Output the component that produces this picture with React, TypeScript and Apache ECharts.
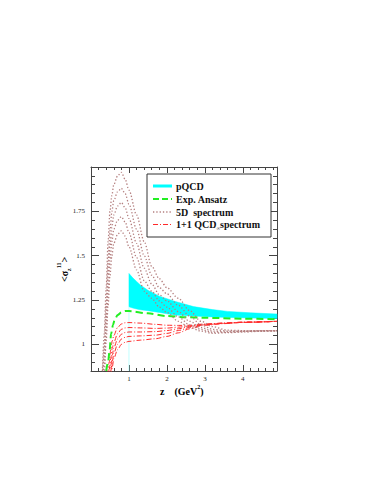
import React, { useEffect, useRef } from 'react';
import * as echarts from 'echarts';

// ---- data ----
const X_MAJOR = [1, 2, 3, 4];
const Y_MAJOR = [1, 1.25, 1.5, 1.75];

// pQCD band
const Z_BAND = [1.0, 1.1, 1.2, 1.3, 1.5, 1.8, 2.2, 2.7, 3.2, 3.6, 4.2, 4.9];
const BAND_UPPER = [1.4, 1.375, 1.355, 1.335, 1.305, 1.272, 1.243, 1.213, 1.196, 1.186, 1.178, 1.171];
const BAND_LOWER = [1.212, 1.205, 1.2, 1.195, 1.19, 1.18, 1.165, 1.16, 1.155, 1.152, 1.149, 1.146];

// Exp. Ansatz
const Z_GREEN = [0.4, 0.45, 0.49, 0.53, 0.58, 0.62, 0.7, 0.8, 0.9, 1.0, 1.5, 2.0, 2.5, 3.0, 4.0, 4.9];
const EXP_ANSATZ = [0.85, 0.9, 0.966, 1.06, 1.11, 1.136, 1.165, 1.18, 1.188, 1.188, 1.175, 1.16, 1.153, 1.15, 1.145, 1.142];

// 5D spectrum
const Z_5D = [0.3, 0.35, 0.4, 0.45, 0.5, 0.55, 0.6, 0.7, 0.8, 0.9, 1.0, 1.2, 1.4, 1.6, 1.8, 2.0, 2.3, 2.6, 2.9, 3.2, 3.6, 4.0, 4.5, 4.9];
const SPEC5D_1 = [0.85, 1.06, 1.32, 1.58, 1.75, 1.84, 1.9, 1.95, 1.97, 1.93, 1.87, 1.73, 1.58, 1.44, 1.37, 1.32, 1.26, 1.19, 1.13, 1.1, 1.08, 1.078, 1.078, 1.078];
const SPEC5D_2 = [0.82, 0.98, 1.22, 1.47, 1.64, 1.75, 1.81, 1.86, 1.88, 1.85, 1.79, 1.65, 1.5, 1.39, 1.32, 1.285, 1.22, 1.16, 1.11, 1.085, 1.075, 1.075, 1.077, 1.078];
const SPEC5D_3 = [0.8, 0.93, 1.15, 1.38, 1.55, 1.66, 1.73, 1.78, 1.8, 1.77, 1.71, 1.57, 1.43, 1.34, 1.28, 1.245, 1.185, 1.13, 1.095, 1.075, 1.07, 1.073, 1.076, 1.077];
const SPEC5D_4 = [0.78, 0.88, 1.08, 1.3, 1.47, 1.58, 1.65, 1.7, 1.72, 1.69, 1.63, 1.49, 1.36, 1.3, 1.245, 1.21, 1.155, 1.11, 1.085, 1.068, 1.068, 1.072, 1.075, 1.077];
const SPEC5D_5 = [0.76, 0.84, 1.02, 1.22, 1.39, 1.5, 1.57, 1.62, 1.64, 1.61, 1.55, 1.42, 1.3, 1.26, 1.21, 1.18, 1.13, 1.095, 1.075, 1.062, 1.066, 1.07, 1.074, 1.076];

// 1+1 QCD spectrum
const Z_RED = [0.44, 0.48, 0.52, 0.56, 0.6, 0.7, 0.8, 0.9, 1.0, 1.3, 1.7, 2.0, 2.3, 2.6, 3.0, 3.5, 4.0, 4.9];
const QCD11_1 = [0.83, 0.9, 0.97, 1.02, 1.05, 1.095, 1.115, 1.122, 1.123, 1.12, 1.113, 1.108, 1.107, 1.108, 1.115, 1.12, 1.125, 1.13];
const QCD11_2 = [0.8, 0.86, 0.92, 0.98, 1.01, 1.06, 1.085, 1.093, 1.095, 1.093, 1.09, 1.092, 1.097, 1.104, 1.113, 1.12, 1.125, 1.13];
const QCD11_3 = [0.77, 0.83, 0.88, 0.94, 0.98, 1.03, 1.057, 1.067, 1.07, 1.07, 1.072, 1.078, 1.088, 1.1, 1.112, 1.119, 1.125, 1.13];
const QCD11_4 = [0.74, 0.8, 0.85, 0.9, 0.95, 1.0, 1.03, 1.04, 1.045, 1.048, 1.052, 1.062, 1.078, 1.095, 1.11, 1.118, 1.124, 1.13];
const QCD11_5 = [0.71, 0.77, 0.82, 0.87, 0.92, 0.97, 1.0, 1.012, 1.017, 1.024, 1.032, 1.045, 1.065, 1.088, 1.108, 1.117, 1.124, 1.13];

const SPEC5D = [SPEC5D_1, SPEC5D_2, SPEC5D_3, SPEC5D_4, SPEC5D_5];
const QCD11 = [QCD11_1, QCD11_2, QCD11_3, QCD11_4, QCD11_5];

const CYAN = '#00ffff';
const GREEN = '#22ee22';
const BROWN = '#b47f7f';
const RED = '#ff2a2a';
const FRAME = '#444';
const SERIF = '"Liberation Serif", "DejaVu Serif", serif';

const zip = (xs: number[], ys: number[]) => xs.map((x, i) => [x, ys[i]]);

export default function App() {
  const ref = useRef<HTMLDivElement>(null);
  useEffect(() => {
    if (!ref.current) return;
    const chart = echarts.init(ref.current, null, { renderer: 'svg' });

    const minorX = (pos: string) => ({
      type: 'value', position: pos, min: 0, max: 4.9, interval: 0.2,
      axisLine: { show: true, onZero: false, lineStyle: { color: FRAME, width: 1 } },
      axisTick: { show: true, inside: true, length: 3, lineStyle: { color: FRAME, width: 1 } },
      axisLabel: { show: false }, splitLine: { show: false },
    });
    const majorX = (pos: string, labels: boolean) => ({
      type: 'value', position: pos, min: 0, max: 4.9,
      axisLine: { show: false, onZero: false },
      axisTick: { show: true, inside: true, length: 6, customValues: X_MAJOR, lineStyle: { color: FRAME, width: 1 } },
      axisLabel: { show: labels, customValues: X_MAJOR, fontSize: 7, color: '#222', fontFamily: SERIF, margin: 4 },
      splitLine: { show: false },
    });
    const minorY = (pos: string) => ({
      type: 'value', position: pos, min: 0.85, max: 2.0, interval: 0.05,
      axisLine: { show: true, onZero: false, lineStyle: { color: FRAME, width: 1 } },
      axisTick: { show: true, inside: true, length: 4, lineStyle: { color: FRAME, width: 1 } },
      axisLabel: { show: false }, splitLine: { show: false },
    });
    const majorY = (pos: string, labels: boolean) => ({
      type: 'value', position: pos, min: 0.85, max: 2.0,
      axisLine: { show: false, onZero: false },
      axisTick: { show: true, inside: true, length: 8, customValues: Y_MAJOR, lineStyle: { color: FRAME, width: 1 } },
      axisLabel: { show: labels, customValues: Y_MAJOR, fontSize: 7, color: '#222', fontFamily: SERIF, margin: 6 },
      splitLine: { show: false },
    });

    const series: any[] = [];
    series.push({
      type: 'custom', name: 'pQCD', xAxisIndex: 0, yAxisIndex: 0,
      data: [[Z_BAND[0], BAND_UPPER[0]]],
      renderItem: (_p: any, api: any) => {
        const pts = Z_BAND.map((z, i) => api.coord([z, BAND_UPPER[i]]));
        for (let i = Z_BAND.length - 1; i >= 0; i--) pts.push(api.coord([Z_BAND[i], BAND_LOWER[i]]));
        return { type: 'polygon', shape: { points: pts }, style: { fill: CYAN, stroke: CYAN, lineWidth: 0.5 } };
      },
      z: 1,
    });
    series.push({
      type: 'line', xAxisIndex: 0, yAxisIndex: 0, symbol: 'none', silent: true,
      data: [[Z_BAND[0], 0.85], [Z_BAND[0], BAND_LOWER[0]]],
      lineStyle: { color: '#9ff', width: 0.6 }, z: 1,
    });
    QCD11.forEach((ys) => series.push({
      type: 'line', xAxisIndex: 0, yAxisIndex: 0, symbol: 'none', smooth: 0.3, smoothMonotone: 'x',
      data: zip(Z_RED, ys),
      lineStyle: { color: RED, width: 1, type: [5, 2, 1, 2] }, z: 2,
    }));
    series.push({
      type: 'line', xAxisIndex: 0, yAxisIndex: 0, symbol: 'none', smooth: 0.3, smoothMonotone: 'x',
      data: zip(Z_GREEN, EXP_ANSATZ),
      lineStyle: { color: GREEN, width: 2, type: [7, 4] }, z: 3,
    });
    SPEC5D.forEach((ys) => series.push({
      type: 'line', xAxisIndex: 0, yAxisIndex: 0, symbol: 'none', smooth: 0.3, smoothMonotone: 'x',
      data: zip(Z_5D, ys),
      lineStyle: { color: BROWN, width: 1.3, type: [1.3, 2] }, z: 4,
    }));

    const lx0 = 153, lx1 = 172, tx = 176;
    const rows = [186, 199, 212, 224.5];

    chart.setOption({
      animation: false,
      backgroundColor: '#fff',
      grid: { left: 91, top: 167, width: 186, height: 204, containLabel: false },
      xAxis: [minorX('bottom'), majorX('bottom', true), minorX('top'), majorX('top', false)],
      yAxis: [minorY('left'), majorY('left', true), minorY('right'), majorY('right', false)],
      series,
      graphic: [
        { type: 'rect', shape: { x: 147, y: 174, width: 124, height: 63 }, style: { fill: '#fff', stroke: '#333', lineWidth: 1 }, z: 100 },
        { type: 'line', shape: { x1: lx0, y1: rows[0], x2: lx1, y2: rows[0] }, style: { stroke: CYAN, lineWidth: 3 }, z: 101 },
        { type: 'line', shape: { x1: lx0, y1: rows[1], x2: lx1, y2: rows[1] }, style: { stroke: GREEN, lineWidth: 2, lineDash: [6, 3] }, z: 101 },
        { type: 'line', shape: { x1: lx0, y1: rows[2], x2: lx1, y2: rows[2] }, style: { stroke: BROWN, lineWidth: 1.3, lineDash: [1.3, 2] }, z: 101 },
        { type: 'line', shape: { x1: lx0, y1: rows[3], x2: lx1, y2: rows[3] }, style: { stroke: RED, lineWidth: 1, lineDash: [5, 2, 1, 2] }, z: 101 },
        { type: 'text', x: tx, y: rows[0], style: { text: 'pQCD', font: `bold 10px ${SERIF}`, fill: '#111', verticalAlign: 'middle' }, z: 101 },
        { type: 'text', x: tx, y: rows[1], style: { text: 'Exp. Ansatz', font: `bold 10px ${SERIF}`, fill: '#111', verticalAlign: 'middle' }, z: 101 },
        { type: 'text', x: tx, y: rows[2], style: { text: '5D  spectrum', font: `bold 10px ${SERIF}`, fill: '#111', verticalAlign: 'middle' }, z: 101 },
        {
          type: 'text', x: tx, y: rows[3], z: 101,
          style: {
            text: '{a|1+1 QCD}{s|∞}{a|spectrum}', verticalAlign: 'middle', fill: '#111',
            rich: {
              a: { font: `bold 10px ${SERIF}`, fill: '#111', lineHeight: 12 },
              s: { font: `bold 5px ${SERIF}`, fill: '#111', lineHeight: 12, verticalAlign: 'bottom', padding: [4, 0, 0, 0] },
            },
          },
        },
        {
          type: 'text', x: 160, y: 391, z: 101,
          style: {
            text: '{a|z    (GeV}{s|2}{a|)}', verticalAlign: 'middle', fill: '#000',
            rich: {
              a: { font: `bold 10px ${SERIF}`, fill: '#000', lineHeight: 14 },
              s: { font: `bold 6px ${SERIF}`, fill: '#000', lineHeight: 14, verticalAlign: 'top', padding: [0, 0, 5, 0] },
            },
          },
        },
        {
          type: 'text', x: 64, y: 282, rotation: Math.PI / 2, z: 101,
          style: {
            text: '{a|<σ}{b|z}{c|11}{a|>}', verticalAlign: 'middle', align: 'left', fill: '#000',
            rich: {
              a: { font: `bold 10px ${SERIF}`, fill: '#000', lineHeight: 16 },
              b: { font: `bold 6px ${SERIF}`, fill: '#000', lineHeight: 16, verticalAlign: 'bottom', padding: [6, 0, 0, 0] },
              c: { font: `bold 6px ${SERIF}`, fill: '#000', lineHeight: 16, verticalAlign: 'top', padding: [0, 0, 6, 0] },
            },
          },
        },
      ],
    });
    return () => chart.dispose();
  }, []);
  return <div ref={ref} style={{ position: 'fixed', left: 0, top: 0, width: 382, height: 494 }} />;
}
